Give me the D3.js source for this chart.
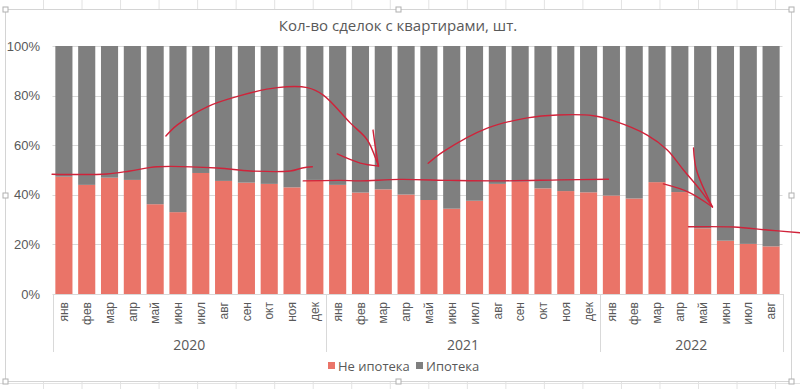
<!DOCTYPE html>
<html><head><meta charset="utf-8">
<script src="https://cdn.jsdelivr.net/npm/d3@7"></script>
<style>
html,body{margin:0;padding:0;background:#fff;}
svg{display:block;font-family:"Open Sans",sans-serif;}
</style></head>
<body><svg id="c" width="800" height="389"></svg>
<script>
// ---- data ----
const title = "Кол-во сделок с квартирами, шт.";
const monthNames = ["янв","фев","мар","апр","май","июн","июл","авг","сен","окт","ноя","дек"];
const years = ["2020","2021","2022"];
const monthsPerYear = [12,12,8];
const seriesNames = ["Не ипотека","Ипотека"];
// share of non-mortgage deals, %
const nonMortgage = [47.3,44.0,46.9,46.0,36.2,33.0,48.8,45.6,44.9,44.4,43.0,46.0,
                     44.0,40.9,42.2,40.1,37.9,34.4,37.6,44.4,45.3,42.6,41.5,41.0,
                     39.7,38.5,45.1,41.1,26.5,21.5,20.2,19.2];
const mortgage = nonMortgage.map(v => 100 - v);
const yTicks = [0,20,40,60,80,100];
// hand-drawn annotations, [month index, percent]
const annotations = [
  [[-0.52,48.3],[1.89,48.4],[2.9,49.6],[4.09,51.3],[6.72,50.8],[8.17,49.6],[9.92,49.6],[10.45,50.8],[10.89,51.3]],
  [[4.47,63.7],[4.96,68.1],[6.28,75.5],[7.42,79.2],[9.35,83.2],[10.67,83.2],[11.37,80.2],[12.55,69.0],[13.3,62.1],[13.74,52.8],[13.79,51.6]],
  [[11.98,56.5],[12.99,52.8],[13.79,51.6]],
  [[13.55,66.1],[13.64,60.1],[13.79,51.6]],
  [[10.49,45.6],[12.11,45.8],[12.99,45.6],[14.74,46.2],[16.93,45.8],[19.1,45.6],[21.76,46.0],[23.87,46.3]],
  [[15.97,52.7],[16.63,57.4],[18.56,66.9],[20.31,71.0],[21.63,72.2],[23.21,71.9],[24.08,69.9],[25.57,64.1],[26.45,58.1],[27.16,50.0],[27.9,41.9],[28.43,35.1]],
  [[27.6,58.9],[27.73,50.0],[28.43,35.1]],
  [[26.28,44.4],[27.38,41.1],[28.43,35.1]],
  [[27.38,27.1],[29.36,27.0],[30.84,25.8],[32.29,24.7]]
];

// ---- build categories ----
const cats = [];
years.forEach((y,yi)=>{ for(let m=0;m<monthsPerYear[yi];m++) cats.push({year:y, month:monthNames[m], key:y+"-"+m}); });
const rows = cats.map((c,i)=>({key:c.key, "Не ипотека":nonMortgage[i], "Ипотека":mortgage[i]}));

const svg = d3.select("#c");
const W=800,H=389;
const plot = {l:52.5, r:782.5, t:46, b:294};
const colors = {"Не ипотека":"#ea7468","Ипотека":"#7f7f7f"};
const textCol = "#595959";

// spreadsheet background grid
const bg = svg.append("g");
for(let x=43.5;x<W;x+=38.53) bg.append("line").attr("x1",x).attr("x2",x).attr("y1",0).attr("y2",H).attr("stroke","#e3e3e3");
for(let y=383.5;y<H;y+=20) bg.append("line").attr("x1",0).attr("x2",W).attr("y1",y).attr("y2",y).attr("stroke","#e3e3e3");
for(let y=-0.5;y>-1;y-=20){}
// chart area
svg.append("rect").attr("x",5.5).attr("y",9.5).attr("width",786).attr("height",372)
  .attr("fill","#fff").attr("stroke","#d4d4d4");

const x = d3.scaleBand().domain(cats.map(c=>c.key)).range([plot.l,plot.r]).paddingInner(0.25).paddingOuter(0.125);
const y = d3.scaleLinear().domain([0,100]).range([plot.b,plot.t]);

// gridlines
svg.append("g").selectAll("line").data(yTicks).join("line")
  .attr("x1",plot.l).attr("x2",plot.r).attr("y1",d=>Math.round(y(d))+0.5).attr("y2",d=>Math.round(y(d))+0.5)
  .attr("stroke","#d9d9d9");

// y axis labels
const yAxis = d3.axisLeft(y).tickValues(yTicks).tickFormat(d=>d+"%").tickSize(0).tickPadding(12);
const yg = svg.append("g").attr("transform",`translate(${plot.l},0)`).call(yAxis);
yg.select(".domain").remove();
yg.selectAll("text").attr("fill",textCol).style("font-size","13px").attr("x",40-plot.l);

// stacked bars
const stack = d3.stack().keys(seriesNames)(rows);
svg.append("g").selectAll("g").data(stack).join("g").attr("fill",d=>colors[d.key])
  .selectAll("rect").data(d=>d).join("rect")
  .attr("x",d=>x(d.data.key)).attr("width",x.bandwidth())
  .attr("y",d=>y(d[1])).attr("height",d=>y(d[0])-y(d[1]));

// x axis month labels
const xAxis = d3.axisBottom(x).tickSize(0).tickFormat((d,i)=>cats[i].month);
const xg = svg.append("g").attr("transform",`translate(0,${plot.b})`).call(xAxis);
xg.select(".domain").attr("stroke","#d9d9d9");
xg.selectAll("text").attr("fill",textCol).style("font-size","12px")
  .attr("transform","rotate(-90)").attr("text-anchor","end").attr("x",-8).attr("y",0).attr("dy","0.35em");

// year groups
let start=0;
const sepX = [plot.l];
years.forEach((yr,yi)=>{
  const first = cats[start].key, last = cats[start+monthsPerYear[yi]-1].key;
  const x0 = x(first) - x.step()*x.paddingInner()/2;
  const x1 = x(last) + x.bandwidth() + x.step()*x.paddingInner()/2;
  sepX.push(x1);
  svg.append("text").attr("x",(x0+x1)/2).attr("y",350).attr("text-anchor","middle")
    .attr("fill",textCol).style("font-size","14px").text(yr);
  start += monthsPerYear[yi];
});
svg.append("g").selectAll("line").data(sepX).join("line")
  .attr("x1",d=>Math.round(d)+0.5).attr("x2",d=>Math.round(d)+0.5).attr("y1",plot.b).attr("y2",352)
  .attr("stroke","#d9d9d9");

// title
svg.append("text").attr("x",398).attr("y",31).attr("text-anchor","middle").attr("fill",textCol)
  .style("font-size","15px").text(title);

// legend
const lg = svg.append("g");
const legendX = [328,416];
seriesNames.forEach((s,i)=>{
  lg.append("rect").attr("x",legendX[i]).attr("y",362).attr("width",7).attr("height",7).attr("fill",colors[s]);
  lg.append("text").attr("x",legendX[i]+10).attr("y",371).attr("fill",textCol).style("font-size","13px").text(s);
});

// annotations
const step = x.step();
const ax = i => x(cats[0].key) + x.bandwidth()/2 + step*i;
const line = d3.line().x(d=>ax(d[0])).y(d=>y(d[1])).curve(d3.curveCatmullRom);
svg.append("g").selectAll("path").data(annotations).join("path")
  .attr("d",line).attr("fill","none").attr("stroke","#d0233a").attr("stroke-width",1.4)
  .attr("stroke-linecap","round").attr("stroke-linejoin","round");

// selection handles
const hx=[5.5,398.5,791.5], hy=[9.5,195.5,381.5];
const handles=[];
hx.forEach(a=>hy.forEach(b=>{ if(!(a===398.5&&b===195.5)) handles.push([a,b]); }));
svg.append("g").selectAll("rect").data(handles).join("rect")
  .attr("x",d=>d[0]-2.5).attr("y",d=>d[1]-2.5).attr("width",5).attr("height",5)
  .attr("fill","#fff").attr("stroke","#b0b0b0");
</script></body></html>
